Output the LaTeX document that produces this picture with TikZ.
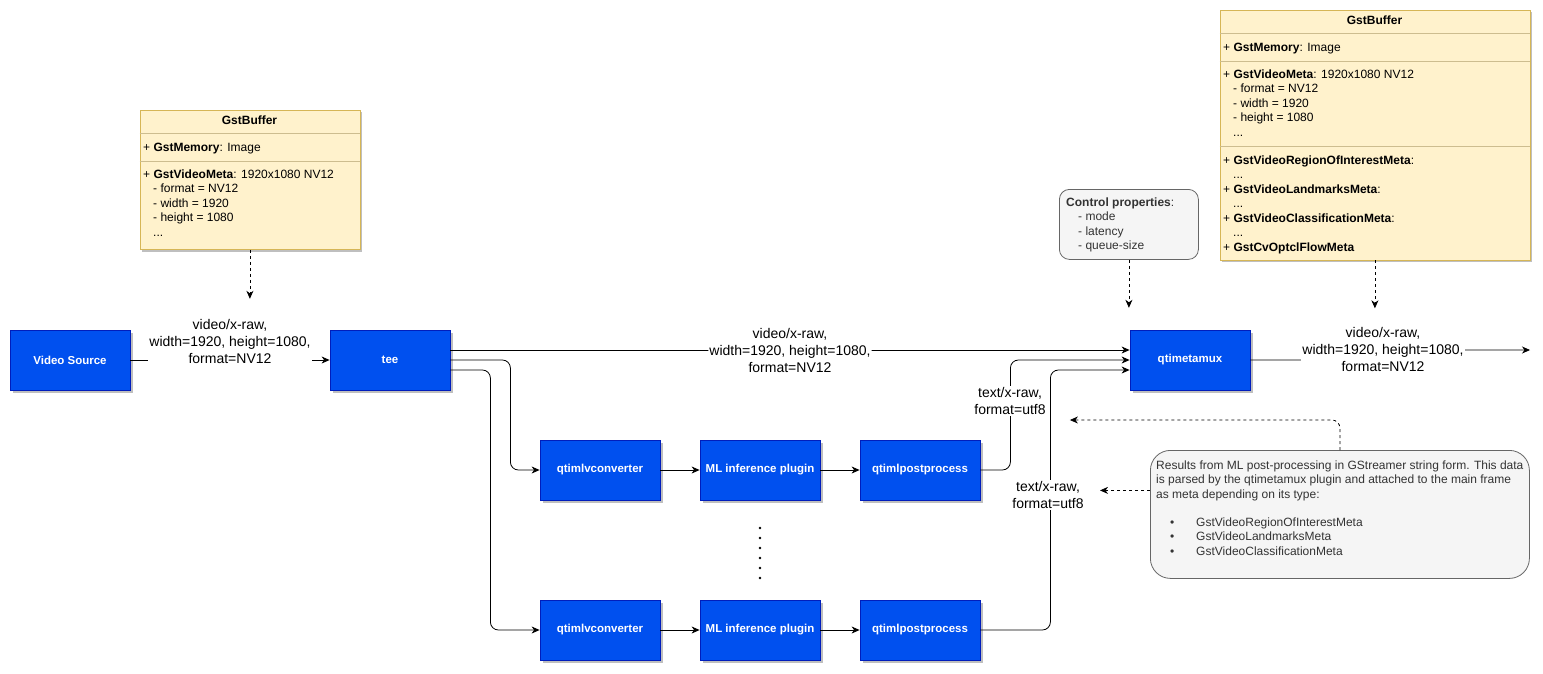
\documentclass[tikz,border=0pt]{standalone}
\usepackage{fontspec}
\setmainfont{Liberation Sans}
\usetikzlibrary{arrows.meta,shadows}
\definecolor{blueF}{HTML}{0050EF}
\definecolor{blueB}{HTML}{001DBC}
\definecolor{yelF}{HTML}{FFF2CC}
\definecolor{yelB}{HTML}{D6B656}
\definecolor{grayF}{HTML}{F5F5F5}
\definecolor{grayB}{HTML}{666666}
\definecolor{grayT}{HTML}{333333}
\newcommand\fs[2]{\fontsize{#1}{#2}\selectfont}
\begin{document}
\begin{tikzpicture}[x=1pt,y=-1pt,
  shd/.style={drop shadow={shadow xshift=2.5pt,shadow yshift=-2.5pt,opacity=0.25,fill=black}},
  blk/.style={draw=blueB, fill=blueF, text=white, font=\bfseries\fs{11.5}{14}, minimum width=120pt, minimum height=60pt, inner sep=0pt, line width=0.8pt, shd},
  ybox/.style={draw=yelB, fill=yelF, line width=0.8pt, inner sep=0pt, anchor=north west, shd},
  yline/.style={draw=yelB!80!black!60, line width=0.8pt},
  gbox/.style={draw=grayB, fill=grayF, line width=0.8pt, inner sep=0pt, anchor=north west},
  txt/.style={anchor=base west, inner sep=0pt, font=\fs{12}{14.5}},
  gtxt/.style={txt, text=grayT},
  lbl/.style={fill=white, inner sep=1pt, align=center, font=\fs{14}{17}},
  conn/.style={line width=0.8pt, -{Stealth[length=8pt,width=7pt,inset=2.5pt]}, rounded corners=8pt},
  dconn/.style={conn, dash pattern=on 3pt off 3pt},
]
\useasboundingbox (0,0) rectangle (1543,673);

% ---------- blue blocks ----------
\node[blk] (vs)   at (70,360)  {Video Source};
\node[blk] (tee)  at (390,360) {tee};
\node[blk] (qtm)  at (1190,360) {qtimetamux};
\node[blk] (cv1)  at (600,470) {qtimlvconverter};
\node[blk] (ml1)  at (760,470) {ML inference plugin};
\node[blk] (pp1)  at (920,470) {qtimlpostprocess};
\node[blk] (cv2)  at (600,630) {qtimlvconverter};
\node[blk] (ml2)  at (760,630) {ML inference plugin};
\node[blk] (pp2)  at (920,630) {qtimlpostprocess};

% ---------- GstBuffer 1 ----------
\node[ybox, minimum width=220pt, minimum height=139.5pt] (buf1) at (139.5,109.5) {};
\draw[yline] (139.5,133.5) -- (359.5,133.5);
\draw[yline] (139.5,161.5) -- (359.5,161.5);
\node[anchor=base, inner sep=0pt, font=\bfseries\fs{12}{14.5}] (b1t) at (249.5,124) {GstBuffer};
\node[txt] (b1m) at (143,151) {+ \textbf{GstMemory}: Image};
\node[txt] (b1v) at (143,178) {+ \textbf{GstVideoMeta}: 1920x1080 NV12};
\node[txt] at (153,192.5) {- format = NV12};
\node[txt] at (153,207) {- width = 1920};
\node[txt] at (153,221.5) {- height = 1080};
\node[txt] at (153,236) {...};

% ---------- GstBuffer 2 ----------
\node[ybox, minimum width=310pt, minimum height=250pt] (buf2) at (1219.5,9.5) {};
\draw[yline] (1219.5,33.5) -- (1529.5,33.5);
\draw[yline] (1219.5,61.5) -- (1529.5,61.5);
\draw[yline] (1219.5,146) -- (1529.5,146);
\node[anchor=base, inner sep=0pt, font=\bfseries\fs{12}{14.5}] (b2t) at (1374.5,24) {GstBuffer};
\node[txt] (b2m) at (1223,51) {+ \textbf{GstMemory}: Image};
\node[txt] (b2v) at (1223,78) {+ \textbf{GstVideoMeta}: 1920x1080 NV12};
\node[txt] at (1233,92.5) {- format = NV12};
\node[txt] at (1233,107) {- width = 1920};
\node[txt] at (1233,121.5) {- height = 1080};
\node[txt] at (1233,136) {...};
\node[txt] at (1223,164) {+ \textbf{GstVideoRegionOfInterestMeta}:};
\node[txt] at (1233,178.5) {...};
\node[txt] at (1223,193) {+ \textbf{GstVideoLandmarksMeta}:};
\node[txt] at (1233,207.5) {...};
\node[txt] at (1223,222) {+ \textbf{GstVideoClassificationMeta}:};
\node[txt] at (1233,236.5) {...};
\node[txt] at (1223,251) {+ \textbf{GstCvOptclFlowMeta}};

% ---------- Control properties ----------
\node[gbox, rounded corners=10pt, minimum width=139pt, minimum height=70pt] (ctrl) at (1059,189) {};
\node[gtxt] (ct) at (1066,206) {\textbf{Control properties}:};
\node[gtxt] at (1078,220.5) {- mode};
\node[gtxt] at (1078,235) {- latency};
\node[gtxt] at (1078,249.5) {- queue-size};

% ---------- Results note ----------
\node[gbox, rounded corners=20pt, minimum width=379pt, minimum height=128pt] (res) at (1150,450) {};
\node[gtxt] (rt) at (1156,469) {Results from ML post-processing in GStreamer string form. This data};
\node[gtxt] at (1156,483.5) {is parsed by the qtimetamux plugin and attached to the main frame};
\node[gtxt] at (1156,498) {as meta depending on its type:};
\foreach \yy/\tt in {526/GstVideoRegionOfInterestMeta, 540.5/GstVideoLandmarksMeta, 555/GstVideoClassificationMeta}{
  \node[gtxt] at (1170,\yy) {•};
  \node[gtxt] at (1196,\yy) {\tt};
}

% ---------- connectors ----------
\draw[conn] (vs.east) -- (tee.west);
\node[lbl] (l1) at (230,341) {video/x-raw,\\width=1920, height=1080,\\format=NV12};

\draw[conn] ([yshift=10pt]tee.east) -- node[lbl] (l2) {video/x-raw,\\width=1920, height=1080,\\format=NV12} ([yshift=10pt]qtm.west);
\draw[conn] (tee.east) -- ++(60,0) |- (cv1.west);
\draw[conn] ([yshift=-10pt]tee.east) -- ++(40,0) |- (cv2.west);
\draw[conn] (cv1) -- (ml1);
\draw[conn] (ml1) -- (pp1);
\draw[conn] (cv2) -- (ml2);
\draw[conn] (ml2) -- (pp2);
\draw[conn] (pp1.east) -- ++(30,0) |- (qtm.west);
\node[lbl] (l3) at (1010,401) {text/x-raw,\\format=utf8};
\draw[conn] (pp2.east) -- ++(70,0) |- ([yshift=-10pt]qtm.west);
\node[lbl] (l4) at (1048,495) {text/x-raw,\\format=utf8};

\coordinate (out) at (1530,350);
\draw[conn, rounded corners=3pt] (qtm.east) -- (1383,360) |- (out);
\node[lbl] (l5) at (1383,349) {video/x-raw,\\width=1920, height=1080,\\format=NV12};

% dashed
\draw[dconn] (buf1.south) -- ++(0,49);
\draw[dconn] (ctrl.south) -- ++(0,48);
\draw[dconn] (buf2.south) -- ++(0,48);
\draw[dconn] (res.north) -- ++(0,-30) -- ++(-270,0);
\draw[dconn] ([yshift=24pt]res.west) -- ++(-50,0);

% vertical dots
\foreach \i in {0,...,5} \fill (760,528+10*\i) circle (1.3pt);
\end{tikzpicture}
\end{document}
